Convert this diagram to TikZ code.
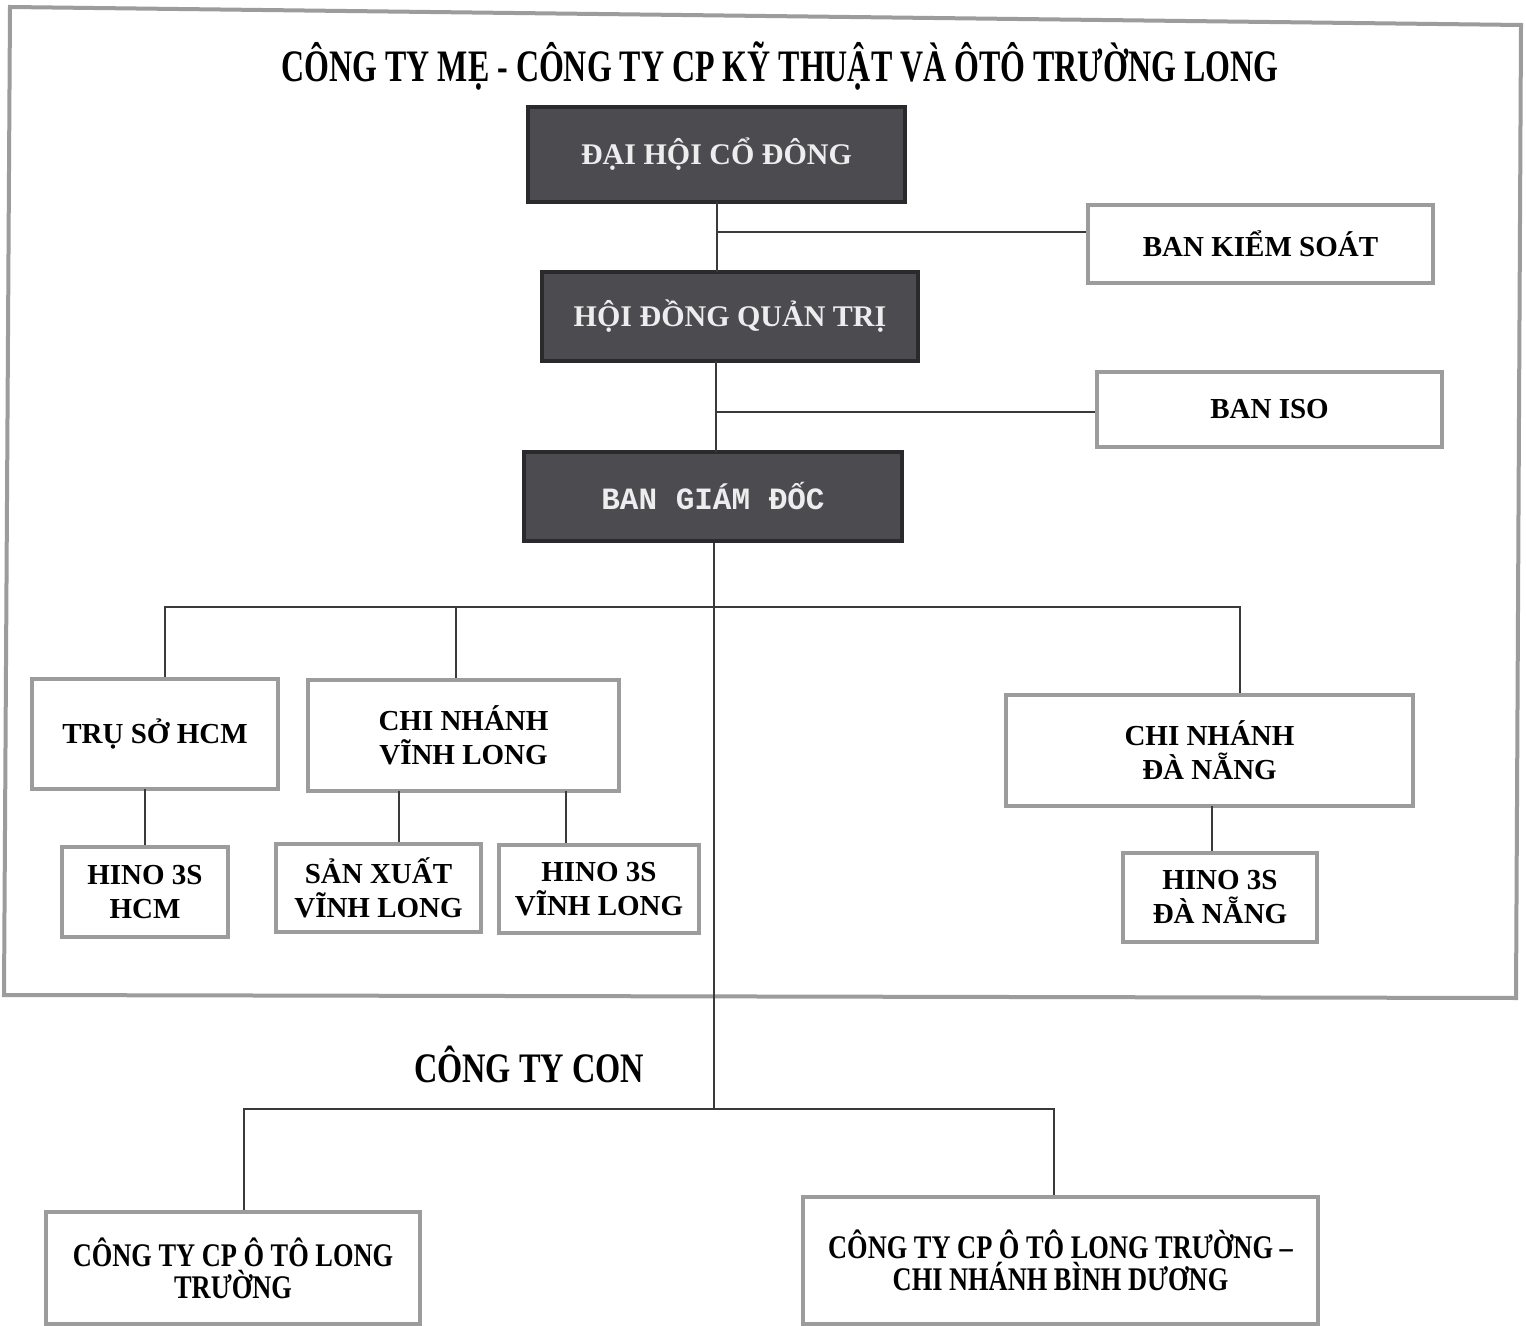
\documentclass[tikz,border=0pt]{standalone}
\usepackage{fontspec}
\setmainfont{Liberation Serif}
\newfontfamily\condfont[FakeStretch=0.71]{Liberation Serif}
\newfontfamily\confont[FakeStretch=0.77]{Liberation Serif}
\newfontfamily\midfont[FakeStretch=0.8]{Liberation Serif}
\newfontfamily\monofnt{Liberation Mono}
\definecolor{boxgrey}{HTML}{9C9C9C}
\definecolor{darkfill}{HTML}{4B4B50}
\definecolor{darkedge}{HTML}{2A2A2C}
\definecolor{linecol}{HTML}{3A3A3A}
\definecolor{paletext}{HTML}{EDEDED}
\tikzset{
  wbox/.style={draw=boxgrey, line width=2pt, fill=white, inner sep=0pt, align=center,
    font=\fontsize{14.5}{17}\selectfont\bfseries},
  dbox/.style={draw=darkedge, line width=1.6pt, fill=darkfill, inner sep=0pt, align=center,
    text=paletext, font=\fontsize{15}{17}\selectfont\bfseries},
  cbox/.style={draw=boxgrey, line width=2pt, fill=white, inner sep=0pt, align=center,
    font=\midfont\fontsize{16.5}{16}\selectfont\bfseries},
  conn/.style={draw=linecol, line width=0.75pt},
  frame/.style={draw=boxgrey, line width=2pt}
}
\begin{document}
\begin{tikzpicture}[x=0.5pt,y=-0.5pt]
\useasboundingbox (0,0) rectangle (1526,1326);
\fill[white] (0,0) rectangle (1526,1326);
% outer frame of parent company
\draw[frame] (10,7) -- (1521,25) -- (1516,998) -- (4,995) -- cycle;

% titles
\node (title) at (780,66) {\condfont\fontsize{22.5}{24}\selectfont\bfseries CÔNG TY MẸ - CÔNG TY CP KỸ THUẬT VÀ ÔTÔ TRƯỜNG LONG};
\node (con) at (529,1064) {\confont\fontsize{21}{23}\selectfont\bfseries CÔNG TY CON};

% dark boxes
\node[dbox, minimum width=188.5pt, minimum height=47.5pt] (dhcd) at (716.5,154.5) {ĐẠI HỘI CỔ ĐÔNG};
\node[dbox, minimum width=188pt, minimum height=44.5pt] (hdqt) at (730,316.5) {HỘI ĐỒNG QUẢN TRỊ};
\node[dbox, minimum width=189pt, minimum height=44.5pt, font=\monofnt\fontsize{15.5}{17}\selectfont\bfseries] (bgd) at (713,496.5) {BAN GIÁM ĐỐC};

% side boxes
\node[wbox, minimum width=172.5pt, minimum height=39pt] (bks) at (1260.5,244) {BAN KIỂM SOÁT};
\node[wbox, minimum width=172.5pt, minimum height=37.5pt] (biso) at (1269.5,409.5) {BAN ISO};

% branches
\node[wbox, minimum width=123pt, minimum height=55pt] (tsh) at (155,734) {TRỤ SỞ HCM};
\node[wbox, minimum width=155.5pt, minimum height=55.5pt] (cnvl) at (463.5,735.5) {CHI NHÁNH\\VĨNH LONG};
\node[wbox, minimum width=203.5pt, minimum height=55.5pt] (cndn) at (1209.5,750.5) {CHI NHÁNH\\ĐÀ NẴNG};
\node[wbox, minimum width=83pt, minimum height=45pt] (h3hcm) at (145,892) {HINO 3S\\HCM};
\node[wbox, minimum width=102.5pt, minimum height=44pt] (sxvl) at (378.5,888) {SẢN XUẤT\\VĨNH LONG};
\node[wbox, minimum width=100pt, minimum height=44pt] (h3vl) at (599,889) {HINO 3S\\VĨNH LONG};
\node[wbox, minimum width=97pt, minimum height=44.5pt] (h3dn) at (1220,897.5) {HINO 3S\\ĐÀ NẴNG};

% subsidiaries
\node[cbox, minimum width=187pt, minimum height=56pt] (ctlt) at (233,1268) {CÔNG TY CP Ô TÔ LONG\\TRƯỜNG};
\node[cbox, minimum width=257.5pt, minimum height=63.5pt] (ctbd) at (1060.5,1260.5) {CÔNG TY CP Ô TÔ LONG TRƯỜNG –\\CHI NHÁNH BÌNH DƯƠNG};

% connectors
\coordinate (j1) at (717,232);
\coordinate (j2) at (716,412);
\coordinate (bar) at (714,607);
\coordinate (bot) at (714,1109);
\draw[conn] (717,202) -- (717,272);
\draw[conn] (j1) -- (j1 -| bks.west);
\draw[conn] (716,361) -- (716,452);
\draw[conn] (j2) -- (j2 -| biso.west);
\draw[conn] (bgd.south -| bar) -- (bot);
\draw[conn] (tsh.north -| 165,0) -- (165,607) -- (1240,607) -- (1240,607 |- cndn.north);
\draw[conn] (456,607) -- (456,607 |- cnvl.north);
\draw[conn] (145,789) -- (h3hcm.north -| 145,0);
\draw[conn] (399,791) -- (sxvl.north -| 399,0);
\draw[conn] (566,791) -- (h3vl.north -| 566,0);
\draw[conn] (1212,806) -- (h3dn.north -| 1212,0);
\draw[conn] (ctlt.north -| 244,0) -- (244,1109) -- (1054,1109) -- (1054,1109 |- ctbd.north);
\end{tikzpicture}
\end{document}
